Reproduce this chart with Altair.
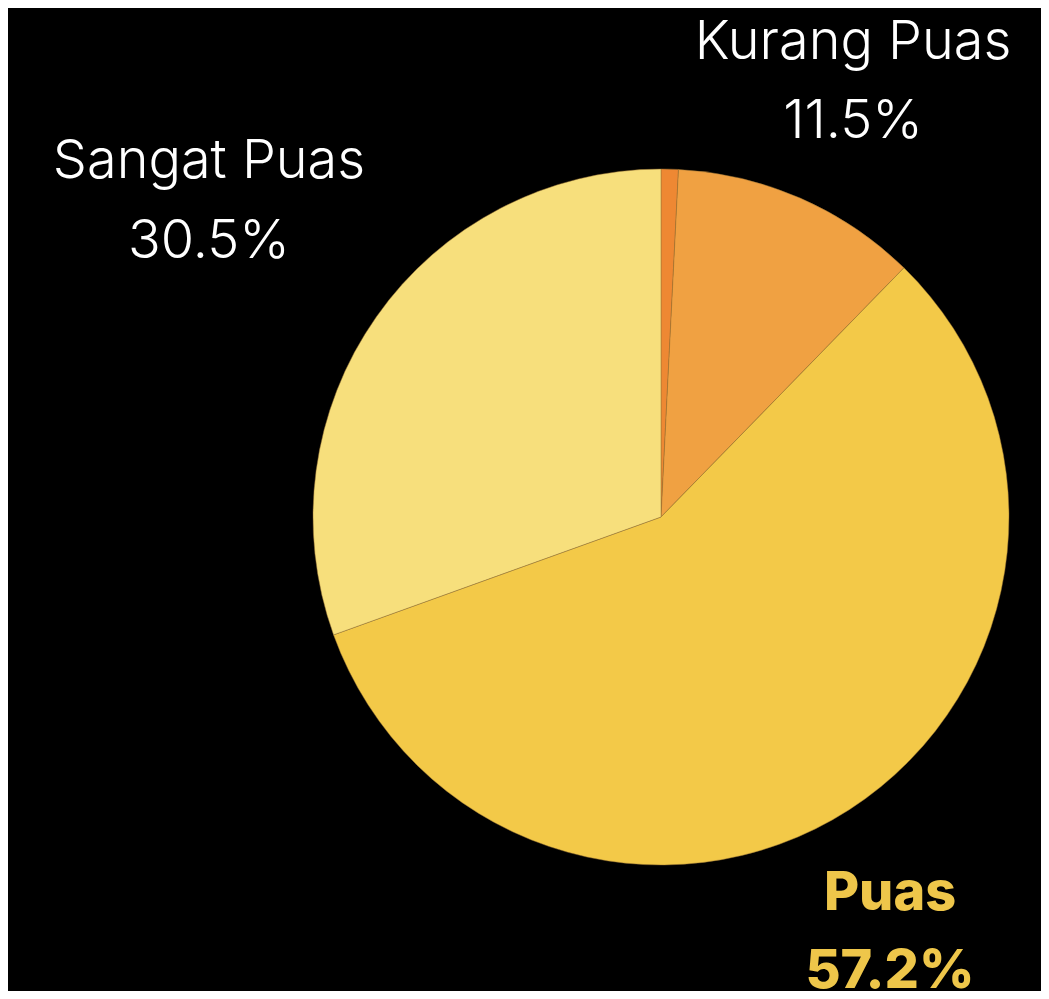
import altair as alt
import pandas as pd

# ---- data ----
categories = ["Lainnya", "Kurang Puas", "Puas", "Sangat Puas"]
values = [0.8, 11.5, 57.2, 30.5]
colors = ["#EE8833", "#F0A142", "#F3C948", "#F7DF7C"]

label_cats = ["Kurang Puas", "Sangat Puas", "Puas"]
label_pcts = ["11.5%", "30.5%", "57.2%"]

df = pd.DataFrame({"category": categories, "value": values, "order": list(range(len(categories)))})
lab = pd.DataFrame({"category": label_cats, "pct": label_pcts})

W, H = 1033, 983
CX, CY, R = 653, 509, 348

pie = alt.Chart(df).mark_arc(
    radius=R, stroke="#9a7434", strokeWidth=0.6, strokeOpacity=0.8
).encode(
    theta=alt.Theta("value:Q", stack=True, scale=alt.Scale(range=[0, 6.283185307179586])),
    order=alt.Order("order:Q"),
    color=alt.Color("category:N", scale=alt.Scale(domain=categories, range=colors), legend=None),
    x=alt.value(CX),
    y=alt.value(CY),
)

# label placement (styling, not data)
place = {
    "Kurang Puas": dict(x=845, y1=51, y2=130, color="#FFFFFF", weight=300),
    "Sangat Puas": dict(x=201, y1=170, y2=250, color="#FFFFFF", weight=300),
    "Puas": dict(x=882, y1=902, y2=980, color="#EEC64A", weight=800),
}

FONT = "Inter"
layers = [pie]
for cat in label_cats:
    p = place[cat]
    base = alt.Chart(lab).transform_filter(alt.datum.category == cat)
    for field, yy in (("category", p["y1"]), ("pct", p["y2"])):
        layers.append(
            base.mark_text(
                x=p["x"], y=yy, align="center", baseline="alphabetic",
                font=FONT, fontSize=54, fontWeight=p["weight"], color=p["color"],
            ).encode(text=f"{field}:N")
        )

chart = alt.layer(*layers).properties(
    width=W, height=H, background="#000000", padding=0,
    autosize=alt.AutoSizeParams(type="none"),
).configure_view(stroke=None)

chart.save("out.html", embed_options={"renderer": "svg", "actions": False})
